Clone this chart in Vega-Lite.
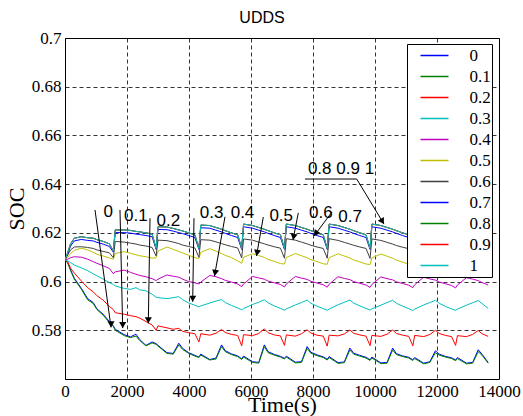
{
"$schema": "https://vega.github.io/schema/vega-lite/v6.json",
"width": 434, "height": 341,
"autosize": {"type": "none"},
"padding": {"left": 65, "top": 38, "right": 24, "bottom": 37},
"background": "white",
"title": {"text": "UDDS", "font": "Liberation Sans", "fontSize": 16, "fontWeight": "normal", "color": "black", "dx": -20, "dy": 25, "offset": 15, "baseline": "alphabetic"},
"config": {
 "font": "Liberation Serif",
 "view": {"stroke": "black", "strokeWidth": 1},
 "axis": {"grid": true, "gridColor": "black", "gridDash": [4, 3], "gridOpacity": 1, "gridWidth": 0.8, "domain": false, "ticks": false, "labelOverlap": false, "labelBound": false, "labelFlush": false, "labelFont": "Liberation Serif", "labelFontSize": 17, "labelColor": "black", "titleFont": "Liberation Serif", "titleFontSize": 22, "titleFontWeight": "normal", "titleColor": "black"},
 "legend": {"orient": "none", "legendX": 342, "legendY": 6, "symbolType": "stroke", "symbolSize": 784, "symbolStrokeWidth": 1.5, "symbolOffset": 11.5, "labelFont": "Liberation Serif", "labelFontSize": 17, "labelColor": "black", "labelOffset": 20, "clipHeight": 21, "rowPadding": 0, "padding": 1, "fillColor": "white", "strokeColor": "black", "zindex": 1}
},
"datasets": {
"soc": [
{"s":"0","t":0,"v":0.6090},{"s":"0","t":90,"v":0.6078},{"s":"0","t":180,"v":0.6048},{"s":"0","t":300,"v":0.6014},{"s":"0","t":530,"v":0.5972},{"s":"0","t":730,"v":0.5930},{"s":"0","t":910,"v":0.5914},{"s":"0","t":1030,"v":0.5888},{"s":"0","t":1230,"v":0.5866},{"s":"0","t":1430,"v":0.5836},
{"s":"0","t":1560,"v":0.5818},{"s":"0","t":1620,"v":0.5804},{"s":"0","t":1910,"v":0.5782},{"s":"0","t":2110,"v":0.5773},{"s":"0","t":2290,"v":0.5784},{"s":"0","t":2410,"v":0.5762},{"s":"0","t":2610,"v":0.5738},{"s":"0","t":2810,"v":0.5752},
{"s":"0","t":2940,"v":0.5745},{"s":"0","t":3000,"v":0.5738},{"s":"0","t":3290,"v":0.5708},{"s":"0","t":3490,"v":0.5705},{"s":"0","t":3670,"v":0.5747},{"s":"0","t":3790,"v":0.5726},{"s":"0","t":3990,"v":0.5708},{"s":"0","t":4190,"v":0.5697},
{"s":"0","t":4320,"v":0.5690},{"s":"0","t":4380,"v":0.5702},{"s":"0","t":4670,"v":0.5680},{"s":"0","t":4870,"v":0.5686},{"s":"0","t":5050,"v":0.5740},{"s":"0","t":5170,"v":0.5716},{"s":"0","t":5370,"v":0.5703},{"s":"0","t":5570,"v":0.5695},
{"s":"0","t":5700,"v":0.5683},{"s":"0","t":5760,"v":0.5694},{"s":"0","t":6050,"v":0.5671},{"s":"0","t":6250,"v":0.5668},{"s":"0","t":6430,"v":0.5740},{"s":"0","t":6550,"v":0.5712},{"s":"0","t":6750,"v":0.5701},{"s":"0","t":6950,"v":0.5693},
{"s":"0","t":7080,"v":0.5685},{"s":"0","t":7140,"v":0.5694},{"s":"0","t":7430,"v":0.5669},{"s":"0","t":7630,"v":0.5671},{"s":"0","t":7810,"v":0.5733},{"s":"0","t":7930,"v":0.5710},{"s":"0","t":8130,"v":0.5699},{"s":"0","t":8330,"v":0.5691},
{"s":"0","t":8460,"v":0.5681},{"s":"0","t":8520,"v":0.5692},{"s":"0","t":8810,"v":0.5667},{"s":"0","t":9010,"v":0.5670},{"s":"0","t":9190,"v":0.5727},{"s":"0","t":9310,"v":0.5706},{"s":"0","t":9510,"v":0.5697},{"s":"0","t":9710,"v":0.5689},
{"s":"0","t":9840,"v":0.5679},{"s":"0","t":9900,"v":0.5690},{"s":"0","t":10190,"v":0.5666},{"s":"0","t":10390,"v":0.5668},{"s":"0","t":10570,"v":0.5727},{"s":"0","t":10690,"v":0.5704},{"s":"0","t":10890,"v":0.5695},{"s":"0","t":11090,"v":0.5689},
{"s":"0","t":11220,"v":0.5679},{"s":"0","t":11280,"v":0.5688},{"s":"0","t":11570,"v":0.5665},{"s":"0","t":11770,"v":0.5671},{"s":"0","t":11950,"v":0.5716},{"s":"0","t":12070,"v":0.5702},{"s":"0","t":12270,"v":0.5693},{"s":"0","t":12470,"v":0.5687},
{"s":"0","t":12600,"v":0.5678},{"s":"0","t":12660,"v":0.5688},{"s":"0","t":12950,"v":0.5665},{"s":"0","t":13150,"v":0.5668},{"s":"0","t":13330,"v":0.5720},{"s":"0","t":13450,"v":0.5702},{"s":"0","t":13650,"v":0.5668},

{"s":"0.1","t":0,"v":0.6090},{"s":"0.1","t":90,"v":0.6075},{"s":"0.1","t":180,"v":0.6045},{"s":"0.1","t":300,"v":0.6010},{"s":"0.1","t":530,"v":0.5968},{"s":"0.1","t":730,"v":0.5925},{"s":"0.1","t":910,"v":0.5910},{"s":"0.1","t":1030,"v":0.5885},{"s":"0.1","t":1230,"v":0.5862},{"s":"0.1","t":1430,"v":0.5832},
{"s":"0.1","t":1560,"v":0.5815},{"s":"0.1","t":1620,"v":0.5800},{"s":"0.1","t":1910,"v":0.5778},{"s":"0.1","t":2110,"v":0.5770},{"s":"0.1","t":2290,"v":0.5776},{"s":"0.1","t":2410,"v":0.5758},{"s":"0.1","t":2610,"v":0.5736},{"s":"0.1","t":2810,"v":0.5748},
{"s":"0.1","t":2940,"v":0.5742},{"s":"0.1","t":3000,"v":0.5735},{"s":"0.1","t":3290,"v":0.5705},{"s":"0.1","t":3490,"v":0.5702},{"s":"0.1","t":3670,"v":0.5740},{"s":"0.1","t":3790,"v":0.5722},{"s":"0.1","t":3990,"v":0.5705},{"s":"0.1","t":4190,"v":0.5694},
{"s":"0.1","t":4320,"v":0.5688},{"s":"0.1","t":4380,"v":0.5698},{"s":"0.1","t":4670,"v":0.5678},{"s":"0.1","t":4870,"v":0.5682},{"s":"0.1","t":5050,"v":0.5733},{"s":"0.1","t":5170,"v":0.5712},{"s":"0.1","t":5370,"v":0.5700},{"s":"0.1","t":5570,"v":0.5692},
{"s":"0.1","t":5700,"v":0.5680},{"s":"0.1","t":5760,"v":0.5690},{"s":"0.1","t":6050,"v":0.5668},{"s":"0.1","t":6250,"v":0.5665},{"s":"0.1","t":6430,"v":0.5733},{"s":"0.1","t":6550,"v":0.5708},{"s":"0.1","t":6750,"v":0.5698},{"s":"0.1","t":6950,"v":0.5690},
{"s":"0.1","t":7080,"v":0.5682},{"s":"0.1","t":7140,"v":0.5690},{"s":"0.1","t":7430,"v":0.5666},{"s":"0.1","t":7630,"v":0.5668},{"s":"0.1","t":7810,"v":0.5726},{"s":"0.1","t":7930,"v":0.5706},{"s":"0.1","t":8130,"v":0.5696},{"s":"0.1","t":8330,"v":0.5688},
{"s":"0.1","t":8460,"v":0.5678},{"s":"0.1","t":8520,"v":0.5688},{"s":"0.1","t":8810,"v":0.5664},{"s":"0.1","t":9010,"v":0.5667},{"s":"0.1","t":9190,"v":0.5719},{"s":"0.1","t":9310,"v":0.5702},{"s":"0.1","t":9510,"v":0.5694},{"s":"0.1","t":9710,"v":0.5686},
{"s":"0.1","t":9840,"v":0.5676},{"s":"0.1","t":9900,"v":0.5686},{"s":"0.1","t":10190,"v":0.5663},{"s":"0.1","t":10390,"v":0.5665},{"s":"0.1","t":10570,"v":0.5719},{"s":"0.1","t":10690,"v":0.5700},{"s":"0.1","t":10890,"v":0.5692},{"s":"0.1","t":11090,"v":0.5686},
{"s":"0.1","t":11220,"v":0.5676},{"s":"0.1","t":11280,"v":0.5684},{"s":"0.1","t":11570,"v":0.5662},{"s":"0.1","t":11770,"v":0.5668},{"s":"0.1","t":11950,"v":0.5708},{"s":"0.1","t":12070,"v":0.5698},{"s":"0.1","t":12270,"v":0.5690},{"s":"0.1","t":12470,"v":0.5684},
{"s":"0.1","t":12600,"v":0.5675},{"s":"0.1","t":12660,"v":0.5684},{"s":"0.1","t":12950,"v":0.5662},{"s":"0.1","t":13150,"v":0.5665},{"s":"0.1","t":13330,"v":0.5712},{"s":"0.1","t":13450,"v":0.5698},{"s":"0.1","t":13650,"v":0.5665},

{"s":"0.2","t":0,"v":0.6090},{"s":"0.2","t":90,"v":0.6080},{"s":"0.2","t":180,"v":0.6055},{"s":"0.2","t":300,"v":0.6035},{"s":"0.2","t":530,"v":0.6002},{"s":"0.2","t":730,"v":0.5975},{"s":"0.2","t":910,"v":0.5958},{"s":"0.2","t":1030,"v":0.5942},{"s":"0.2","t":1230,"v":0.5924},{"s":"0.2","t":1430,"v":0.5898},
{"s":"0.2","t":1560,"v":0.5885},{"s":"0.2","t":1620,"v":0.5872},{"s":"0.2","t":1910,"v":0.5866},{"s":"0.2","t":2110,"v":0.5860},{"s":"0.2","t":2290,"v":0.5856},{"s":"0.2","t":2410,"v":0.5850},{"s":"0.2","t":2610,"v":0.5836},{"s":"0.2","t":2810,"v":0.5822},
{"s":"0.2","t":2940,"v":0.5800},{"s":"0.2","t":3000,"v":0.5818},{"s":"0.2","t":3290,"v":0.5810},{"s":"0.2","t":3490,"v":0.5804},{"s":"0.2","t":3670,"v":0.5808},{"s":"0.2","t":3790,"v":0.5796},{"s":"0.2","t":3990,"v":0.5790},{"s":"0.2","t":4190,"v":0.5786},
{"s":"0.2","t":4320,"v":0.5752},{"s":"0.2","t":4380,"v":0.5786},{"s":"0.2","t":4670,"v":0.5780},{"s":"0.2","t":4870,"v":0.5788},{"s":"0.2","t":5050,"v":0.5803},{"s":"0.2","t":5170,"v":0.5791},{"s":"0.2","t":5370,"v":0.5783},{"s":"0.2","t":5570,"v":0.5779},
{"s":"0.2","t":5700,"v":0.5736},{"s":"0.2","t":5760,"v":0.5782},{"s":"0.2","t":6050,"v":0.5778},{"s":"0.2","t":6250,"v":0.5787},{"s":"0.2","t":6430,"v":0.5806},{"s":"0.2","t":6550,"v":0.5790},{"s":"0.2","t":6750,"v":0.5781},{"s":"0.2","t":6950,"v":0.5777},
{"s":"0.2","t":7080,"v":0.5738},{"s":"0.2","t":7140,"v":0.5781},{"s":"0.2","t":7430,"v":0.5776},{"s":"0.2","t":7630,"v":0.5786},{"s":"0.2","t":7810,"v":0.5802},{"s":"0.2","t":7930,"v":0.5789},{"s":"0.2","t":8130,"v":0.5780},{"s":"0.2","t":8330,"v":0.5776},
{"s":"0.2","t":8460,"v":0.5735},{"s":"0.2","t":8520,"v":0.5780},{"s":"0.2","t":8810,"v":0.5777},{"s":"0.2","t":9010,"v":0.5785},{"s":"0.2","t":9190,"v":0.5801},{"s":"0.2","t":9310,"v":0.5788},{"s":"0.2","t":9510,"v":0.5781},{"s":"0.2","t":9710,"v":0.5776},
{"s":"0.2","t":9840,"v":0.5737},{"s":"0.2","t":9900,"v":0.5779},{"s":"0.2","t":10190,"v":0.5775},{"s":"0.2","t":10390,"v":0.5784},{"s":"0.2","t":10570,"v":0.5801},{"s":"0.2","t":10690,"v":0.5787},{"s":"0.2","t":10890,"v":0.5780},{"s":"0.2","t":11090,"v":0.5775},
{"s":"0.2","t":11220,"v":0.5736},{"s":"0.2","t":11280,"v":0.5779},{"s":"0.2","t":11570,"v":0.5774},{"s":"0.2","t":11770,"v":0.5783},{"s":"0.2","t":11950,"v":0.5800},{"s":"0.2","t":12070,"v":0.5787},{"s":"0.2","t":12270,"v":0.5779},{"s":"0.2","t":12470,"v":0.5774},
{"s":"0.2","t":12600,"v":0.5738},{"s":"0.2","t":12660,"v":0.5778},{"s":"0.2","t":12950,"v":0.5774},{"s":"0.2","t":13150,"v":0.5783},{"s":"0.2","t":13330,"v":0.5799},{"s":"0.2","t":13450,"v":0.5786},{"s":"0.2","t":13650,"v":0.5775},

{"s":"0.3","t":0,"v":0.6090},{"s":"0.3","t":90,"v":0.6085},{"s":"0.3","t":180,"v":0.6078},{"s":"0.3","t":300,"v":0.6068},{"s":"0.3","t":530,"v":0.6056},{"s":"0.3","t":730,"v":0.6045},{"s":"0.3","t":910,"v":0.6032},{"s":"0.3","t":1030,"v":0.6024},{"s":"0.3","t":1230,"v":0.6010},{"s":"0.3","t":1430,"v":0.5996},
{"s":"0.3","t":1560,"v":0.5988},{"s":"0.3","t":1620,"v":0.5982},{"s":"0.3","t":1910,"v":0.5972},{"s":"0.3","t":2110,"v":0.5968},{"s":"0.3","t":2290,"v":0.5975},{"s":"0.3","t":2410,"v":0.5966},{"s":"0.3","t":2610,"v":0.5962},{"s":"0.3","t":2810,"v":0.5948},
{"s":"0.3","t":2940,"v":0.5936},{"s":"0.3","t":3000,"v":0.5934},{"s":"0.3","t":3290,"v":0.5930},{"s":"0.3","t":3490,"v":0.5934},{"s":"0.3","t":3670,"v":0.5938},{"s":"0.3","t":3790,"v":0.5926},{"s":"0.3","t":3990,"v":0.5912},{"s":"0.3","t":4190,"v":0.5903},
{"s":"0.3","t":4320,"v":0.5896},{"s":"0.3","t":4380,"v":0.5900},{"s":"0.3","t":4670,"v":0.5912},{"s":"0.3","t":4870,"v":0.5920},{"s":"0.3","t":5050,"v":0.5926},{"s":"0.3","t":5170,"v":0.5914},{"s":"0.3","t":5370,"v":0.5902},{"s":"0.3","t":5570,"v":0.5892},
{"s":"0.3","t":5700,"v":0.5884},{"s":"0.3","t":5760,"v":0.5889},{"s":"0.3","t":6050,"v":0.5906},{"s":"0.3","t":6250,"v":0.5915},{"s":"0.3","t":6430,"v":0.5925},{"s":"0.3","t":6550,"v":0.5913},{"s":"0.3","t":6750,"v":0.5900},{"s":"0.3","t":6950,"v":0.5890},
{"s":"0.3","t":7080,"v":0.5883},{"s":"0.3","t":7140,"v":0.5888},{"s":"0.3","t":7430,"v":0.5904},{"s":"0.3","t":7630,"v":0.5914},{"s":"0.3","t":7810,"v":0.5924},{"s":"0.3","t":7930,"v":0.5911},{"s":"0.3","t":8130,"v":0.5899},{"s":"0.3","t":8330,"v":0.5889},
{"s":"0.3","t":8460,"v":0.5882},{"s":"0.3","t":8520,"v":0.5887},{"s":"0.3","t":8810,"v":0.5905},{"s":"0.3","t":9010,"v":0.5915},{"s":"0.3","t":9190,"v":0.5924},{"s":"0.3","t":9310,"v":0.5912},{"s":"0.3","t":9510,"v":0.5900},{"s":"0.3","t":9710,"v":0.5890},
{"s":"0.3","t":9840,"v":0.5883},{"s":"0.3","t":9900,"v":0.5888},{"s":"0.3","t":10190,"v":0.5903},{"s":"0.3","t":10390,"v":0.5914},{"s":"0.3","t":10570,"v":0.5923},{"s":"0.3","t":10690,"v":0.5911},{"s":"0.3","t":10890,"v":0.5899},{"s":"0.3","t":11090,"v":0.5889},
{"s":"0.3","t":11220,"v":0.5881},{"s":"0.3","t":11280,"v":0.5887},{"s":"0.3","t":11570,"v":0.5904},{"s":"0.3","t":11770,"v":0.5914},{"s":"0.3","t":11950,"v":0.5923},{"s":"0.3","t":12070,"v":0.5911},{"s":"0.3","t":12270,"v":0.5898},{"s":"0.3","t":12470,"v":0.5888},
{"s":"0.3","t":12600,"v":0.5882},{"s":"0.3","t":12660,"v":0.5887},{"s":"0.3","t":12950,"v":0.5903},{"s":"0.3","t":13150,"v":0.5913},{"s":"0.3","t":13330,"v":0.5922},{"s":"0.3","t":13450,"v":0.5910},{"s":"0.3","t":13650,"v":0.5890},

{"s":"0.4","t":0,"v":0.6090},{"s":"0.4","t":90,"v":0.6092},{"s":"0.4","t":180,"v":0.6098},{"s":"0.4","t":300,"v":0.6102},{"s":"0.4","t":530,"v":0.6100},{"s":"0.4","t":730,"v":0.6092},{"s":"0.4","t":910,"v":0.6082},{"s":"0.4","t":1030,"v":0.6075},{"s":"0.4","t":1230,"v":0.6065},{"s":"0.4","t":1430,"v":0.6054},
{"s":"0.4","t":1560,"v":0.6032},{"s":"0.4","t":1620,"v":0.6040},{"s":"0.4","t":1910,"v":0.6047},{"s":"0.4","t":2110,"v":0.6038},{"s":"0.4","t":2290,"v":0.6030},{"s":"0.4","t":2410,"v":0.6025},{"s":"0.4","t":2610,"v":0.6020},{"s":"0.4","t":2810,"v":0.6012},
{"s":"0.4","t":2940,"v":0.6004},{"s":"0.4","t":3000,"v":0.6010},{"s":"0.4","t":3290,"v":0.6027},{"s":"0.4","t":3490,"v":0.6022},{"s":"0.4","t":3670,"v":0.6018},{"s":"0.4","t":3790,"v":0.6010},{"s":"0.4","t":3990,"v":0.6000},{"s":"0.4","t":4190,"v":0.5995},
{"s":"0.4","t":4320,"v":0.5990},{"s":"0.4","t":4380,"v":0.5998},{"s":"0.4","t":4670,"v":0.6025},{"s":"0.4","t":4870,"v":0.6020},{"s":"0.4","t":5050,"v":0.6012},{"s":"0.4","t":5170,"v":0.6005},{"s":"0.4","t":5370,"v":0.5998},{"s":"0.4","t":5570,"v":0.5990},
{"s":"0.4","t":5700,"v":0.5979},{"s":"0.4","t":5760,"v":0.5990},{"s":"0.4","t":6050,"v":0.6021},{"s":"0.4","t":6250,"v":0.6015},{"s":"0.4","t":6430,"v":0.6010},{"s":"0.4","t":6550,"v":0.6002},{"s":"0.4","t":6750,"v":0.5995},{"s":"0.4","t":6950,"v":0.5988},
{"s":"0.4","t":7080,"v":0.5978},{"s":"0.4","t":7140,"v":0.5990},{"s":"0.4","t":7430,"v":0.6021},{"s":"0.4","t":7630,"v":0.6014},{"s":"0.4","t":7810,"v":0.6009},{"s":"0.4","t":7930,"v":0.6001},{"s":"0.4","t":8130,"v":0.5994},{"s":"0.4","t":8330,"v":0.5987},
{"s":"0.4","t":8460,"v":0.5977},{"s":"0.4","t":8520,"v":0.5989},{"s":"0.4","t":8810,"v":0.6020},{"s":"0.4","t":9010,"v":0.6013},{"s":"0.4","t":9190,"v":0.6008},{"s":"0.4","t":9310,"v":0.6000},{"s":"0.4","t":9510,"v":0.5993},{"s":"0.4","t":9710,"v":0.5986},
{"s":"0.4","t":9840,"v":0.5976},{"s":"0.4","t":9900,"v":0.5988},{"s":"0.4","t":10190,"v":0.6019},{"s":"0.4","t":10390,"v":0.6012},{"s":"0.4","t":10570,"v":0.6007},{"s":"0.4","t":10690,"v":0.5999},{"s":"0.4","t":10890,"v":0.5992},{"s":"0.4","t":11090,"v":0.5985},
{"s":"0.4","t":11220,"v":0.5975},{"s":"0.4","t":11280,"v":0.5987},{"s":"0.4","t":11570,"v":0.6018},{"s":"0.4","t":11770,"v":0.6011},{"s":"0.4","t":11950,"v":0.6006},{"s":"0.4","t":12070,"v":0.5998},{"s":"0.4","t":12270,"v":0.5991},{"s":"0.4","t":12470,"v":0.5984},
{"s":"0.4","t":12600,"v":0.5974},{"s":"0.4","t":12660,"v":0.5986},{"s":"0.4","t":12950,"v":0.6016},{"s":"0.4","t":13150,"v":0.6010},{"s":"0.4","t":13330,"v":0.6004},{"s":"0.4","t":13450,"v":0.5996},{"s":"0.4","t":13650,"v":0.5986},

{"s":"0.5","t":0,"v":0.6090},{"s":"0.5","t":90,"v":0.6100},{"s":"0.5","t":180,"v":0.6115},{"s":"0.5","t":300,"v":0.6128},{"s":"0.5","t":530,"v":0.6137},{"s":"0.5","t":730,"v":0.6130},{"s":"0.5","t":910,"v":0.6120},{"s":"0.5","t":1030,"v":0.6112},{"s":"0.5","t":1230,"v":0.6105},{"s":"0.5","t":1430,"v":0.6097},
{"s":"0.5","t":1560,"v":0.6092},{"s":"0.5","t":1620,"v":0.6115},{"s":"0.5","t":1910,"v":0.6123},{"s":"0.5","t":2110,"v":0.6116},{"s":"0.5","t":2290,"v":0.6110},{"s":"0.5","t":2410,"v":0.6106},{"s":"0.5","t":2610,"v":0.6102},{"s":"0.5","t":2810,"v":0.6096},
{"s":"0.5","t":2940,"v":0.6098},{"s":"0.5","t":3000,"v":0.6125},{"s":"0.5","t":3290,"v":0.6142},{"s":"0.5","t":3490,"v":0.6132},{"s":"0.5","t":3670,"v":0.6124},{"s":"0.5","t":3790,"v":0.6118},{"s":"0.5","t":3990,"v":0.6108},{"s":"0.5","t":4190,"v":0.6098},
{"s":"0.5","t":4320,"v":0.6095},{"s":"0.5","t":4380,"v":0.6120},{"s":"0.5","t":4670,"v":0.6135},{"s":"0.5","t":4870,"v":0.6125},{"s":"0.5","t":5050,"v":0.6115},{"s":"0.5","t":5170,"v":0.6108},{"s":"0.5","t":5370,"v":0.6098},{"s":"0.5","t":5570,"v":0.6085},
{"s":"0.5","t":5700,"v":0.6075},{"s":"0.5","t":5760,"v":0.6100},{"s":"0.5","t":6050,"v":0.6114},{"s":"0.5","t":6250,"v":0.6107},{"s":"0.5","t":6430,"v":0.6099},{"s":"0.5","t":6550,"v":0.6091},{"s":"0.5","t":6750,"v":0.6083},{"s":"0.5","t":6950,"v":0.6074},
{"s":"0.5","t":7080,"v":0.6072},{"s":"0.5","t":7140,"v":0.6099},{"s":"0.5","t":7430,"v":0.6115},{"s":"0.5","t":7630,"v":0.6106},{"s":"0.5","t":7810,"v":0.6098},{"s":"0.5","t":7930,"v":0.6090},{"s":"0.5","t":8130,"v":0.6082},{"s":"0.5","t":8330,"v":0.6073},
{"s":"0.5","t":8460,"v":0.6071},{"s":"0.5","t":8520,"v":0.6098},{"s":"0.5","t":8810,"v":0.6114},{"s":"0.5","t":9010,"v":0.6105},{"s":"0.5","t":9190,"v":0.6097},{"s":"0.5","t":9310,"v":0.6089},{"s":"0.5","t":9510,"v":0.6081},{"s":"0.5","t":9710,"v":0.6072},
{"s":"0.5","t":9840,"v":0.6070},{"s":"0.5","t":9900,"v":0.6097},{"s":"0.5","t":10190,"v":0.6113},{"s":"0.5","t":10390,"v":0.6104},{"s":"0.5","t":10570,"v":0.6096},{"s":"0.5","t":10690,"v":0.6088},{"s":"0.5","t":10890,"v":0.6080},{"s":"0.5","t":11090,"v":0.6071},
{"s":"0.5","t":11220,"v":0.6069},{"s":"0.5","t":11280,"v":0.6096},{"s":"0.5","t":11570,"v":0.6112},{"s":"0.5","t":11770,"v":0.6103},{"s":"0.5","t":11950,"v":0.6095},{"s":"0.5","t":12070,"v":0.6087},{"s":"0.5","t":12270,"v":0.6079},{"s":"0.5","t":12470,"v":0.6070},
{"s":"0.5","t":12600,"v":0.6068},{"s":"0.5","t":12660,"v":0.6095},{"s":"0.5","t":12950,"v":0.6111},{"s":"0.5","t":13150,"v":0.6102},{"s":"0.5","t":13330,"v":0.6094},{"s":"0.5","t":13450,"v":0.6086},{"s":"0.5","t":13650,"v":0.6074},

{"s":"0.6","t":0,"v":0.6090},{"s":"0.6","t":90,"v":0.6110},{"s":"0.6","t":180,"v":0.6130},{"s":"0.6","t":300,"v":0.6142},{"s":"0.6","t":530,"v":0.6143},{"s":"0.6","t":730,"v":0.6140},{"s":"0.6","t":910,"v":0.6136},{"s":"0.6","t":1030,"v":0.6130},{"s":"0.6","t":1230,"v":0.6124},{"s":"0.6","t":1430,"v":0.6118},
{"s":"0.6","t":1560,"v":0.6098},{"s":"0.6","t":1620,"v":0.6165},{"s":"0.6","t":1910,"v":0.6162},{"s":"0.6","t":2110,"v":0.6158},{"s":"0.6","t":2290,"v":0.6154},{"s":"0.6","t":2410,"v":0.6150},{"s":"0.6","t":2610,"v":0.6146},{"s":"0.6","t":2810,"v":0.6140},
{"s":"0.6","t":2940,"v":0.6105},{"s":"0.6","t":3000,"v":0.6170},{"s":"0.6","t":3290,"v":0.6168},{"s":"0.6","t":3490,"v":0.6162},{"s":"0.6","t":3670,"v":0.6156},{"s":"0.6","t":3790,"v":0.6150},{"s":"0.6","t":3990,"v":0.6144},{"s":"0.6","t":4190,"v":0.6138},
{"s":"0.6","t":4320,"v":0.6100},{"s":"0.6","t":4380,"v":0.6172},{"s":"0.6","t":4670,"v":0.6170},{"s":"0.6","t":4870,"v":0.6163},{"s":"0.6","t":5050,"v":0.6156},{"s":"0.6","t":5170,"v":0.6151},{"s":"0.6","t":5370,"v":0.6144},{"s":"0.6","t":5570,"v":0.6138},
{"s":"0.6","t":5700,"v":0.6097},{"s":"0.6","t":5760,"v":0.6175},{"s":"0.6","t":6050,"v":0.6170},{"s":"0.6","t":6250,"v":0.6162},{"s":"0.6","t":6430,"v":0.6155},{"s":"0.6","t":6550,"v":0.6150},{"s":"0.6","t":6750,"v":0.6143},{"s":"0.6","t":6950,"v":0.6137},
{"s":"0.6","t":7080,"v":0.6096},{"s":"0.6","t":7140,"v":0.6176},{"s":"0.6","t":7430,"v":0.6170},{"s":"0.6","t":7630,"v":0.6162},{"s":"0.6","t":7810,"v":0.6155},{"s":"0.6","t":7930,"v":0.6149},{"s":"0.6","t":8130,"v":0.6142},{"s":"0.6","t":8330,"v":0.6136},
{"s":"0.6","t":8460,"v":0.6096},{"s":"0.6","t":8520,"v":0.6176},{"s":"0.6","t":8810,"v":0.6169},{"s":"0.6","t":9010,"v":0.6161},{"s":"0.6","t":9190,"v":0.6154},{"s":"0.6","t":9310,"v":0.6149},{"s":"0.6","t":9510,"v":0.6142},{"s":"0.6","t":9710,"v":0.6136},
{"s":"0.6","t":9840,"v":0.6095},{"s":"0.6","t":9900,"v":0.6175},{"s":"0.6","t":10190,"v":0.6169},{"s":"0.6","t":10390,"v":0.6161},{"s":"0.6","t":10570,"v":0.6154},{"s":"0.6","t":10690,"v":0.6148},{"s":"0.6","t":10890,"v":0.6141},{"s":"0.6","t":11090,"v":0.6135},
{"s":"0.6","t":11220,"v":0.6095},{"s":"0.6","t":11280,"v":0.6174},{"s":"0.6","t":11570,"v":0.6168},{"s":"0.6","t":11770,"v":0.6160},{"s":"0.6","t":11950,"v":0.6153},{"s":"0.6","t":12070,"v":0.6148},{"s":"0.6","t":12270,"v":0.6141},{"s":"0.6","t":12470,"v":0.6135},
{"s":"0.6","t":12600,"v":0.6095},{"s":"0.6","t":12660,"v":0.6174},{"s":"0.6","t":12950,"v":0.6167},{"s":"0.6","t":13150,"v":0.6160},{"s":"0.6","t":13330,"v":0.6153},{"s":"0.6","t":13450,"v":0.6147},{"s":"0.6","t":13650,"v":0.6138},

{"s":"0.7","t":0,"v":0.6090},{"s":"0.7","t":90,"v":0.6113},{"s":"0.7","t":180,"v":0.6146},{"s":"0.7","t":300,"v":0.6167},{"s":"0.7","t":530,"v":0.6173},{"s":"0.7","t":730,"v":0.6169},{"s":"0.7","t":910,"v":0.6167},{"s":"0.7","t":1030,"v":0.6161},{"s":"0.7","t":1230,"v":0.6154},{"s":"0.7","t":1430,"v":0.6144},
{"s":"0.7","t":1560,"v":0.6121},{"s":"0.7","t":1620,"v":0.6201},{"s":"0.7","t":1910,"v":0.6201},{"s":"0.7","t":2110,"v":0.6199},{"s":"0.7","t":2290,"v":0.6195},{"s":"0.7","t":2410,"v":0.6193},{"s":"0.7","t":2610,"v":0.6189},{"s":"0.7","t":2810,"v":0.6184},
{"s":"0.7","t":2940,"v":0.6132},{"s":"0.7","t":3000,"v":0.6214},{"s":"0.7","t":3290,"v":0.6213},{"s":"0.7","t":3490,"v":0.6207},{"s":"0.7","t":3670,"v":0.6201},{"s":"0.7","t":3790,"v":0.6197},{"s":"0.7","t":3990,"v":0.6189},{"s":"0.7","t":4190,"v":0.6181},
{"s":"0.7","t":4320,"v":0.6132},{"s":"0.7","t":4380,"v":0.6221},{"s":"0.7","t":4670,"v":0.6219},{"s":"0.7","t":4870,"v":0.6211},{"s":"0.7","t":5050,"v":0.6204},{"s":"0.7","t":5170,"v":0.6198},{"s":"0.7","t":5370,"v":0.6189},{"s":"0.7","t":5570,"v":0.6181},
{"s":"0.7","t":5700,"v":0.6132},{"s":"0.7","t":5760,"v":0.6225},{"s":"0.7","t":6050,"v":0.6219},{"s":"0.7","t":6250,"v":0.6211},{"s":"0.7","t":6430,"v":0.6204},{"s":"0.7","t":6550,"v":0.6198},{"s":"0.7","t":6750,"v":0.6189},{"s":"0.7","t":6950,"v":0.6181},
{"s":"0.7","t":7080,"v":0.6132},{"s":"0.7","t":7140,"v":0.6225},{"s":"0.7","t":7430,"v":0.6219},{"s":"0.7","t":7630,"v":0.6211},{"s":"0.7","t":7810,"v":0.6204},{"s":"0.7","t":7930,"v":0.6198},{"s":"0.7","t":8130,"v":0.6189},{"s":"0.7","t":8330,"v":0.6181},
{"s":"0.7","t":8460,"v":0.6132},{"s":"0.7","t":8520,"v":0.6225},{"s":"0.7","t":8810,"v":0.6219},{"s":"0.7","t":9010,"v":0.6211},{"s":"0.7","t":9190,"v":0.6204},{"s":"0.7","t":9310,"v":0.6198},{"s":"0.7","t":9510,"v":0.6189},{"s":"0.7","t":9710,"v":0.6181},
{"s":"0.7","t":9840,"v":0.6132},{"s":"0.7","t":9900,"v":0.6225},{"s":"0.7","t":10190,"v":0.6219},{"s":"0.7","t":10390,"v":0.6211},{"s":"0.7","t":10570,"v":0.6204},{"s":"0.7","t":10690,"v":0.6198},{"s":"0.7","t":10890,"v":0.6189},{"s":"0.7","t":11090,"v":0.6181},
{"s":"0.7","t":11220,"v":0.6132},{"s":"0.7","t":11280,"v":0.6225},{"s":"0.7","t":11570,"v":0.6219},{"s":"0.7","t":11770,"v":0.6211},{"s":"0.7","t":11950,"v":0.6204},{"s":"0.7","t":12070,"v":0.6198},{"s":"0.7","t":12270,"v":0.6189},{"s":"0.7","t":12470,"v":0.6181},
{"s":"0.7","t":12600,"v":0.6132},{"s":"0.7","t":12660,"v":0.6225},{"s":"0.7","t":12950,"v":0.6219},{"s":"0.7","t":13150,"v":0.6211},{"s":"0.7","t":13330,"v":0.6204},{"s":"0.7","t":13450,"v":0.6198},{"s":"0.7","t":13650,"v":0.6187},

{"s":"0.8","t":0,"v":0.6090},{"s":"0.8","t":90,"v":0.6120},{"s":"0.8","t":180,"v":0.6155},{"s":"0.8","t":300,"v":0.6178},{"s":"0.8","t":530,"v":0.6184},{"s":"0.8","t":730,"v":0.6180},{"s":"0.8","t":910,"v":0.6178},{"s":"0.8","t":1030,"v":0.6172},{"s":"0.8","t":1230,"v":0.6165},{"s":"0.8","t":1430,"v":0.6155},
{"s":"0.8","t":1560,"v":0.6125},{"s":"0.8","t":1620,"v":0.6212},{"s":"0.8","t":1910,"v":0.6212},{"s":"0.8","t":2110,"v":0.6210},{"s":"0.8","t":2290,"v":0.6206},{"s":"0.8","t":2410,"v":0.6204},{"s":"0.8","t":2610,"v":0.6200},{"s":"0.8","t":2810,"v":0.6195},
{"s":"0.8","t":2940,"v":0.6136},{"s":"0.8","t":3000,"v":0.6225},{"s":"0.8","t":3290,"v":0.6224},{"s":"0.8","t":3490,"v":0.6218},{"s":"0.8","t":3670,"v":0.6212},{"s":"0.8","t":3790,"v":0.6208},{"s":"0.8","t":3990,"v":0.6200},{"s":"0.8","t":4190,"v":0.6192},
{"s":"0.8","t":4320,"v":0.6136},{"s":"0.8","t":4380,"v":0.6232},{"s":"0.8","t":4670,"v":0.6230},{"s":"0.8","t":4870,"v":0.6222},{"s":"0.8","t":5050,"v":0.6215},{"s":"0.8","t":5170,"v":0.6209},{"s":"0.8","t":5370,"v":0.6200},{"s":"0.8","t":5570,"v":0.6192},
{"s":"0.8","t":5700,"v":0.6136},{"s":"0.8","t":5760,"v":0.6236},{"s":"0.8","t":6050,"v":0.6230},{"s":"0.8","t":6250,"v":0.6222},{"s":"0.8","t":6430,"v":0.6215},{"s":"0.8","t":6550,"v":0.6209},{"s":"0.8","t":6750,"v":0.6200},{"s":"0.8","t":6950,"v":0.6192},
{"s":"0.8","t":7080,"v":0.6136},{"s":"0.8","t":7140,"v":0.6236},{"s":"0.8","t":7430,"v":0.6230},{"s":"0.8","t":7630,"v":0.6222},{"s":"0.8","t":7810,"v":0.6215},{"s":"0.8","t":7930,"v":0.6209},{"s":"0.8","t":8130,"v":0.6200},{"s":"0.8","t":8330,"v":0.6192},
{"s":"0.8","t":8460,"v":0.6136},{"s":"0.8","t":8520,"v":0.6236},{"s":"0.8","t":8810,"v":0.6230},{"s":"0.8","t":9010,"v":0.6222},{"s":"0.8","t":9190,"v":0.6215},{"s":"0.8","t":9310,"v":0.6209},{"s":"0.8","t":9510,"v":0.6200},{"s":"0.8","t":9710,"v":0.6192},
{"s":"0.8","t":9840,"v":0.6136},{"s":"0.8","t":9900,"v":0.6236},{"s":"0.8","t":10190,"v":0.6230},{"s":"0.8","t":10390,"v":0.6222},{"s":"0.8","t":10570,"v":0.6215},{"s":"0.8","t":10690,"v":0.6209},{"s":"0.8","t":10890,"v":0.6200},{"s":"0.8","t":11090,"v":0.6192},
{"s":"0.8","t":11220,"v":0.6136},{"s":"0.8","t":11280,"v":0.6236},{"s":"0.8","t":11570,"v":0.6230},{"s":"0.8","t":11770,"v":0.6222},{"s":"0.8","t":11950,"v":0.6215},{"s":"0.8","t":12070,"v":0.6209},{"s":"0.8","t":12270,"v":0.6200},{"s":"0.8","t":12470,"v":0.6192},
{"s":"0.8","t":12600,"v":0.6136},{"s":"0.8","t":12660,"v":0.6236},{"s":"0.8","t":12950,"v":0.6230},{"s":"0.8","t":13150,"v":0.6222},{"s":"0.8","t":13330,"v":0.6215},{"s":"0.8","t":13450,"v":0.6209},{"s":"0.8","t":13650,"v":0.6198},

{"s":"0.9","t":0,"v":0.6090},{"s":"0.9","t":90,"v":0.6120},{"s":"0.9","t":180,"v":0.6155},{"s":"0.9","t":300,"v":0.6178},{"s":"0.9","t":530,"v":0.6184},{"s":"0.9","t":730,"v":0.6180},{"s":"0.9","t":910,"v":0.6178},{"s":"0.9","t":1030,"v":0.6172},{"s":"0.9","t":1230,"v":0.6165},{"s":"0.9","t":1430,"v":0.6155},
{"s":"0.9","t":1560,"v":0.6125},{"s":"0.9","t":1620,"v":0.6212},{"s":"0.9","t":1910,"v":0.6212},{"s":"0.9","t":2110,"v":0.6210},{"s":"0.9","t":2290,"v":0.6206},{"s":"0.9","t":2410,"v":0.6204},{"s":"0.9","t":2610,"v":0.6200},{"s":"0.9","t":2810,"v":0.6195},
{"s":"0.9","t":2940,"v":0.6136},{"s":"0.9","t":3000,"v":0.6225},{"s":"0.9","t":3290,"v":0.6224},{"s":"0.9","t":3490,"v":0.6218},{"s":"0.9","t":3670,"v":0.6212},{"s":"0.9","t":3790,"v":0.6208},{"s":"0.9","t":3990,"v":0.6200},{"s":"0.9","t":4190,"v":0.6192},
{"s":"0.9","t":4320,"v":0.6136},{"s":"0.9","t":4380,"v":0.6232},{"s":"0.9","t":4670,"v":0.6230},{"s":"0.9","t":4870,"v":0.6222},{"s":"0.9","t":5050,"v":0.6215},{"s":"0.9","t":5170,"v":0.6209},{"s":"0.9","t":5370,"v":0.6200},{"s":"0.9","t":5570,"v":0.6192},
{"s":"0.9","t":5700,"v":0.6136},{"s":"0.9","t":5760,"v":0.6236},{"s":"0.9","t":6050,"v":0.6230},{"s":"0.9","t":6250,"v":0.6222},{"s":"0.9","t":6430,"v":0.6215},{"s":"0.9","t":6550,"v":0.6209},{"s":"0.9","t":6750,"v":0.6200},{"s":"0.9","t":6950,"v":0.6192},
{"s":"0.9","t":7080,"v":0.6136},{"s":"0.9","t":7140,"v":0.6236},{"s":"0.9","t":7430,"v":0.6230},{"s":"0.9","t":7630,"v":0.6222},{"s":"0.9","t":7810,"v":0.6215},{"s":"0.9","t":7930,"v":0.6209},{"s":"0.9","t":8130,"v":0.6200},{"s":"0.9","t":8330,"v":0.6192},
{"s":"0.9","t":8460,"v":0.6136},{"s":"0.9","t":8520,"v":0.6236},{"s":"0.9","t":8810,"v":0.6230},{"s":"0.9","t":9010,"v":0.6222},{"s":"0.9","t":9190,"v":0.6215},{"s":"0.9","t":9310,"v":0.6209},{"s":"0.9","t":9510,"v":0.6200},{"s":"0.9","t":9710,"v":0.6192},
{"s":"0.9","t":9840,"v":0.6136},{"s":"0.9","t":9900,"v":0.6236},{"s":"0.9","t":10190,"v":0.6230},{"s":"0.9","t":10390,"v":0.6222},{"s":"0.9","t":10570,"v":0.6215},{"s":"0.9","t":10690,"v":0.6209},{"s":"0.9","t":10890,"v":0.6200},{"s":"0.9","t":11090,"v":0.6192},
{"s":"0.9","t":11220,"v":0.6136},{"s":"0.9","t":11280,"v":0.6236},{"s":"0.9","t":11570,"v":0.6230},{"s":"0.9","t":11770,"v":0.6222},{"s":"0.9","t":11950,"v":0.6215},{"s":"0.9","t":12070,"v":0.6209},{"s":"0.9","t":12270,"v":0.6200},{"s":"0.9","t":12470,"v":0.6192},
{"s":"0.9","t":12600,"v":0.6136},{"s":"0.9","t":12660,"v":0.6236},{"s":"0.9","t":12950,"v":0.6230},{"s":"0.9","t":13150,"v":0.6222},{"s":"0.9","t":13330,"v":0.6215},{"s":"0.9","t":13450,"v":0.6209},{"s":"0.9","t":13650,"v":0.6198},

{"s":"1","t":0,"v":0.6090},{"s":"1","t":90,"v":0.6120},{"s":"1","t":180,"v":0.6155},{"s":"1","t":300,"v":0.6178},{"s":"1","t":530,"v":0.6184},{"s":"1","t":730,"v":0.6180},{"s":"1","t":910,"v":0.6178},{"s":"1","t":1030,"v":0.6172},{"s":"1","t":1230,"v":0.6165},{"s":"1","t":1430,"v":0.6155},
{"s":"1","t":1560,"v":0.6125},{"s":"1","t":1620,"v":0.6212},{"s":"1","t":1910,"v":0.6212},{"s":"1","t":2110,"v":0.6210},{"s":"1","t":2290,"v":0.6206},{"s":"1","t":2410,"v":0.6204},{"s":"1","t":2610,"v":0.6200},{"s":"1","t":2810,"v":0.6195},
{"s":"1","t":2940,"v":0.6136},{"s":"1","t":3000,"v":0.6225},{"s":"1","t":3290,"v":0.6224},{"s":"1","t":3490,"v":0.6218},{"s":"1","t":3670,"v":0.6212},{"s":"1","t":3790,"v":0.6208},{"s":"1","t":3990,"v":0.6200},{"s":"1","t":4190,"v":0.6192},
{"s":"1","t":4320,"v":0.6136},{"s":"1","t":4380,"v":0.6232},{"s":"1","t":4670,"v":0.6230},{"s":"1","t":4870,"v":0.6222},{"s":"1","t":5050,"v":0.6215},{"s":"1","t":5170,"v":0.6209},{"s":"1","t":5370,"v":0.6200},{"s":"1","t":5570,"v":0.6192},
{"s":"1","t":5700,"v":0.6136},{"s":"1","t":5760,"v":0.6236},{"s":"1","t":6050,"v":0.6230},{"s":"1","t":6250,"v":0.6222},{"s":"1","t":6430,"v":0.6215},{"s":"1","t":6550,"v":0.6209},{"s":"1","t":6750,"v":0.6200},{"s":"1","t":6950,"v":0.6192},
{"s":"1","t":7080,"v":0.6136},{"s":"1","t":7140,"v":0.6236},{"s":"1","t":7430,"v":0.6230},{"s":"1","t":7630,"v":0.6222},{"s":"1","t":7810,"v":0.6215},{"s":"1","t":7930,"v":0.6209},{"s":"1","t":8130,"v":0.6200},{"s":"1","t":8330,"v":0.6192},
{"s":"1","t":8460,"v":0.6136},{"s":"1","t":8520,"v":0.6236},{"s":"1","t":8810,"v":0.6230},{"s":"1","t":9010,"v":0.6222},{"s":"1","t":9190,"v":0.6215},{"s":"1","t":9310,"v":0.6209},{"s":"1","t":9510,"v":0.6200},{"s":"1","t":9710,"v":0.6192},
{"s":"1","t":9840,"v":0.6136},{"s":"1","t":9900,"v":0.6236},{"s":"1","t":10190,"v":0.6230},{"s":"1","t":10390,"v":0.6222},{"s":"1","t":10570,"v":0.6215},{"s":"1","t":10690,"v":0.6209},{"s":"1","t":10890,"v":0.6200},{"s":"1","t":11090,"v":0.6192},
{"s":"1","t":11220,"v":0.6136},{"s":"1","t":11280,"v":0.6236},{"s":"1","t":11570,"v":0.6230},{"s":"1","t":11770,"v":0.6222},{"s":"1","t":11950,"v":0.6215},{"s":"1","t":12070,"v":0.6209},{"s":"1","t":12270,"v":0.6200},{"s":"1","t":12470,"v":0.6192},
{"s":"1","t":12600,"v":0.6136},{"s":"1","t":12660,"v":0.6236},{"s":"1","t":12950,"v":0.6230},{"s":"1","t":13150,"v":0.6222},{"s":"1","t":13330,"v":0.6215},{"s":"1","t":13450,"v":0.6209},{"s":"1","t":13650,"v":0.6198}
],
"arrows": [
{"id":"0","t1":968,"v1":0.6294,"t2":1484,"v2":0.5812,"head":"d"},
{"id":"0.1","t1":1774,"v1":0.6294,"t2":1861,"v2":0.5809,"head":"d"},
{"id":"0.2","t1":2742,"v1":0.626,"t2":2688,"v2":0.5829,"head":"d"},
{"id":"0.3","t1":4161,"v1":0.626,"t2":4119,"v2":0.5917,"head":"d"},
{"id":"0.4","t1":5161,"v1":0.6266,"t2":4823,"v2":0.6023,"head":"s"},
{"id":"0.5","t1":6397,"v1":0.6265,"t2":6177,"v2":0.6105,"head":"s"},
{"id":"0.6","t1":7526,"v1":0.6282,"t2":7355,"v2":0.6171,"head":"s"},
{"id":"0.7","t1":8613,"v1":0.6286,"t2":8032,"v2":0.6187,"head":"m"},
{"id":"u","t1":7742,"v1":0.6421,"t2":9410,"v2":0.6421,"head":"none"},
{"id":"0.8 0.9 1","t1":9410,"v1":0.6421,"t2":10290,"v2":0.6236,"head":"r"}
],
"labels": [
{"lab":"0","t":1398,"v":0.6287},
{"lab":"0.1","t":2285,"v":0.6269},
{"lab":"0.2","t":3333,"v":0.6249},
{"lab":"0.3","t":4731,"v":0.628},
{"lab":"0.4","t":5726,"v":0.628},
{"lab":"0.5","t":6975,"v":0.6269},
{"lab":"0.6","t":8253,"v":0.628},
{"lab":"0.7","t":9194,"v":0.6266},
{"lab":"0.8 0.9 1","t":8903,"v":0.6462}
]
},
"layer": [
{
 "data": {"name": "soc"},
 "mark": {"type": "line", "strokeWidth": 1, "clip": true},
 "encoding": {
  "x": {"field": "t", "type": "quantitative", "title": "Time(s)", "scale": {"domain": [0, 14000], "nice": false}, "axis": {"values": [0, 2000, 4000, 6000, 8000, 10000, 12000, 14000], "format": "d", "labelFont": "Liberation Serif", "labelPadding": 4, "titlePadding": -5}},
  "y": {"field": "v", "type": "quantitative", "title": "SOC", "scale": {"domain": [0.56, 0.7], "nice": false, "zero": false}, "axis": {"values": [0.56, 0.58, 0.6, 0.62, 0.64, 0.66, 0.68, 0.7], "format": ".2~f", "labelFont": "Liberation Serif", "labelExpr": "datum.value < 0.57 ? '' : datum.label", "labelPadding": 4, "titlePadding": 3}},
  "color": {"field": "s", "type": "nominal", "title": null,
   "scale": {"domain": ["0","0.1","0.2","0.3","0.4","0.5","0.6","0.7","0.8","0.9","1"], "range": ["#0000FF","#008000","#FF0000","#00BFBF","#BF00BF","#BFBF00","#404040","#0000FF","#008000","#FF0000","#00BFBF"]},
   "legend": {"labelFont": "Liberation Serif", "labelExpr": "datum.label + '\u00a0\u00a0'"}}
 }
},
{
 "data": {"name": "arrows"},
 "mark": {"type": "rule", "color": "black", "strokeWidth": 1},
 "encoding": {
  "x": {"field": "t1", "type": "quantitative", "title": "Time(s)"},
  "y": {"field": "v1", "type": "quantitative", "title": "SOC"},
  "x2": {"field": "t2"},
  "y2": {"field": "v2"}
 }
},
{
 "data": {"name": "arrows"},
 "transform": [{"filter": "datum.head == 'd'"}],
 "mark": {"type": "point", "shape": "triangle-down", "filled": true, "color": "black", "opacity": 1, "size": 50, "yOffset": -3},
 "encoding": {"x": {"field": "t2", "type": "quantitative", "title": "Time(s)"}, "y": {"field": "v2", "type": "quantitative", "title": "SOC"}}
},
{
 "data": {"name": "arrows"},
 "transform": [{"filter": "datum.head == 's'"}],
 "mark": {"type": "point", "shape": "triangle-down", "filled": true, "color": "black", "opacity": 1, "size": 50, "angle": 10, "xOffset": 0.6, "yOffset": -3},
 "encoding": {"x": {"field": "t2", "type": "quantitative", "title": "Time(s)"}, "y": {"field": "v2", "type": "quantitative", "title": "SOC"}}
},
{
 "data": {"name": "arrows"},
 "transform": [{"filter": "datum.head == 'm'"}],
 "mark": {"type": "point", "shape": "triangle-down", "filled": true, "color": "black", "opacity": 1, "size": 50, "angle": 37, "xOffset": 1.8, "yOffset": -2.4},
 "encoding": {"x": {"field": "t2", "type": "quantitative", "title": "Time(s)"}, "y": {"field": "v2", "type": "quantitative", "title": "SOC"}}
},
{
 "data": {"name": "arrows"},
 "transform": [{"filter": "datum.head == 'r'"}],
 "mark": {"type": "point", "shape": "triangle-down", "filled": true, "color": "black", "opacity": 1, "size": 50, "angle": 329, "xOffset": -1.6, "yOffset": -2.6},
 "encoding": {"x": {"field": "t2", "type": "quantitative", "title": "Time(s)"}, "y": {"field": "v2", "type": "quantitative", "title": "SOC"}}
},
{
 "data": {"name": "labels"},
 "mark": {"type": "text", "font": "Liberation Sans", "fontSize": 17, "color": "black", "align": "center", "baseline": "middle"},
 "encoding": {"x": {"field": "t", "type": "quantitative", "title": "Time(s)"}, "y": {"field": "v", "type": "quantitative", "title": "SOC"}, "text": {"field": "lab"}}
}
]
}
